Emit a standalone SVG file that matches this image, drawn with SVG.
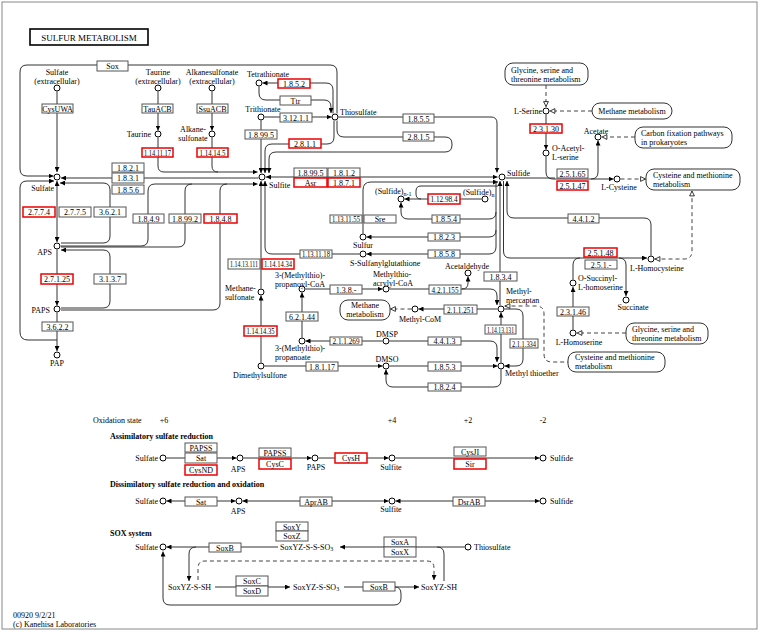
<svg xmlns="http://www.w3.org/2000/svg" width="761" height="632" viewBox="0 0 761 632">
<defs>
<style>
text{font-family:"Liberation Serif","Times New Roman",serif;font-size:8px;fill:#000}
.l{fill:none;stroke:#333;stroke-width:1}
.d{fill:none;stroke:#444;stroke-width:1;stroke-dasharray:4,3}
.e rect{fill:#fff;stroke:#555;stroke-width:1}
.r rect{fill:#fff;stroke:#e00;stroke-width:1.5}
.e text,.r text{text-anchor:middle}
.c circle{fill:#fff;stroke:#000;stroke-width:1}
.mp rect{fill:#fff;stroke:#333;stroke-width:1}
.bold{font-weight:bold}
.end{text-anchor:end}
.mid{text-anchor:middle}
</style>
<marker id="a" viewBox="0 0 10 10" refX="10" refY="5" markerWidth="5" markerHeight="5" markerUnits="userSpaceOnUse" orient="auto-start-reverse"><path d="M0,0L10,5L0,10z" fill="#000"/></marker>
<marker id="h" viewBox="0 0 10 10" refX="10" refY="5" markerWidth="6" markerHeight="6" markerUnits="userSpaceOnUse" orient="auto-start-reverse"><path d="M1,1L9,5L1,9z" fill="#fff" stroke="#000" stroke-width="1.3"/></marker>
</defs>
<rect x="2" y="2" width="755" height="627" fill="#fff" stroke="#888" stroke-width="1"/>
<g id="title"><rect x="30" y="29" width="118" height="16" fill="#fff" stroke="#000" stroke-width="1.6"/><text x="89" y="40.5" class="mid" style="font-size:9px">SULFUR  METABOLISM</text></g>

<g id="connectors">
<path class="l" d="M57,91.5V172" marker-end="url(#a)"/>
<path class="l" d="M158,91.5V130.5" marker-end="url(#a)"/>
<path class="l" d="M158,137.5V166Q158,172 164,172H257.5" marker-end="url(#a)"/>
<path class="l" d="M212,91.5V130.5" marker-end="url(#a)"/>
<path class="l" d="M212,137.5V166Q212,172 218,172"/>
<path class="l" d="M337,113.5V72Q337,65 330,65H27Q20,65 20,72V169Q20,176 27,176H53.5" marker-end="url(#a)"/>
<path class="l" d="M57,340H28Q20,340 20,332V188Q20,181 27,181H54" marker-end="url(#a)"/>
<path class="l" d="M258.5,178H61" marker-end="url(#a)"/>
<path class="l" d="M57,181V242" marker-start="url(#a)" marker-end="url(#a)"/>
<path class="l" d="M61,243H103Q110,243 110,236V190Q110,183 103,183H60" marker-end="url(#a)"/>
<path class="l" d="M57,249.5V305.5" marker-end="url(#a)"/>
<path class="l" d="M61,308H103Q110,308 110,301V257Q110,250 103,250H61" marker-end="url(#a)"/>
<path class="l" d="M61,246H141Q148,246 148,239V191Q148,184 155,184H257.5" marker-end="url(#a)"/>
<path class="l" d="M61,247H178Q185,247 185,240V191Q185,184 192,184"/>
<path class="l" d="M61,310H213Q220,310 220,303V191Q220,184 227,184"/>
<path class="l" d="M57,312.5V351" marker-end="url(#a)"/>
<path class="l" d="M333,113.5V90Q333,83 326,83H262.5" marker-end="url(#a)"/>
<path class="l" d="M259,86.5V93Q259,100 266,100H324Q331,100 331,107V113" marker-end="url(#a)"/>
<path class="l" d="M264.5,117H331.5" marker-end="url(#a)"/>
<path class="l" d="M261,120.5V173" marker-end="url(#a)"/>
<path class="l" d="M334,120.5V137Q334,144 327,144H272Q265,144 265,151V173" marker-end="url(#a)"/>
<path class="l" d="M337,120.5V130Q337,137 344,137H445Q452,137 452,144V145Q452,152 445,152H276Q269,152 269,159V173" marker-end="url(#a)"/>
<path class="l" d="M338.5,117H491Q497,117 497,123V172.5" marker-end="url(#a)"/>
<path class="l" d="M266,177H497.5" marker-start="url(#a)" marker-end="url(#a)"/>
<path class="l" d="M363,233.5V190Q363,182 371,182H498" marker-end="url(#a)"/>
<path class="l" d="M481.5,199H404.5" marker-end="url(#a)"/>
<path class="l" d="M421,199Q416,199 416,194V191Q416,186 421,186H498"/>
<path class="l" d="M496,181V212Q496,219 489,219H408Q401,219 401,212V202.5" marker-end="url(#a)"/>
<path class="l" d="M496,212V230Q496,237 489,237H366.5" marker-end="url(#a)"/>
<path class="l" d="M496,230V247Q496,254 489,254H366.5" marker-end="url(#a)"/>
<path class="l" d="M500,305.5V181" marker-end="url(#a)"/>
<path class="l" d="M651,255.5V225Q651,218 644,218H514Q507,218 507,211V181" marker-end="url(#a)"/>
<path class="l" d="M503.5,181V251Q503.5,258 510,258H647" marker-end="url(#a)"/>
<path class="l" d="M573,279.5V265Q573,258 580,258"/>
<path class="l" d="M619,258Q626,258 626,265V296" marker-end="url(#a)"/>
<path class="l" d="M573,329.5V287" marker-end="url(#a)"/>
<path class="l" d="M546,114.5V149.5" marker-end="url(#a)"/>
<path class="l" d="M546,156.5V172Q546,179 553,179H613.5" marker-end="url(#a)"/>
<path class="l" d="M505.5,178H555"/>
<path class="l" d="M591,179Q598,179 598,172V140.5" marker-end="url(#a)"/>
<path class="l" d="M261,288.5V181" marker-end="url(#a)"/>
<path class="l" d="M359.5,254H272Q265,254 265,247V181" marker-end="url(#a)"/>
<path class="l" d="M261,362.5V295.5" marker-end="url(#a)"/>
<path class="l" d="M264.5,366H382.5" marker-end="url(#a)"/>
<path class="l" d="M389.5,366H497.5" marker-end="url(#a)"/>
<path class="l" d="M501,369.5V380Q501,387 494,387H393Q386,387 386,380V369.5" marker-end="url(#a)"/>
<path class="l" d="M382.5,341H305.5" marker-end="url(#a)"/>
<path class="l" d="M389.5,341H490Q497,341 497,348V362" marker-end="url(#a)"/>
<path class="l" d="M302,337.5V292.5" marker-end="url(#a)"/>
<path class="l" d="M305.5,289H382.5" marker-end="url(#a)"/>
<path class="l" d="M389.5,289H490Q497,289 497,296V305" marker-end="url(#a)"/>
<path class="l" d="M462,289Q468,289 468,283V276.5" marker-end="url(#a)"/>
<path class="l" d="M497.5,309H418.5" marker-end="url(#a)"/>
<path class="l" d="M501,362.5V312.5" marker-end="url(#a)"/>
<path class="l" d="M504.5,309H516Q523,309 523,316V359Q523,366 516,366H504.5" marker-end="url(#a)"/>
<path class="d" d="M546,85V107" marker-end="url(#h)"/>
<path class="d" d="M592,111H549.5" marker-end="url(#h)"/>
<path class="d" d="M635,137H601.5" marker-end="url(#h)"/>
<path class="d" d="M620.5,179H646" marker-end="url(#h)"/>
<path class="d" d="M654.5,259H684Q692,259 692,251V190.5" marker-start="url(#h)" marker-end="url(#h)"/>
<path class="d" d="M504.5,306H536Q544,306 544,314V354Q544,362 552,362H568" marker-start="url(#h)"/>
<path class="d" d="M626,333H576.5" marker-end="url(#h)"/>
<path class="d" d="M411.5,309H390" marker-end="url(#h)"/>
<path class="l" d="M166.5,458H236.5" marker-end="url(#a)"/>
<path class="l" d="M243.5,458H311.5" marker-end="url(#a)"/>
<path class="l" d="M318.5,458H388.5" marker-end="url(#a)"/>
<path class="l" d="M395.5,458H539.5" marker-end="url(#a)"/>
<path class="l" d="M166.5,501H235.5" marker-start="url(#a)" marker-end="url(#a)"/>
<path class="l" d="M242.5,501H388.5" marker-start="url(#a)" marker-end="url(#a)"/>
<path class="l" d="M395.5,501H539.5" marker-start="url(#a)" marker-end="url(#a)"/>
<path class="l" d="M464.5,547H340" marker-end="url(#a)"/>
<path class="l" d="M444,581V554Q444,547 437,547"/>
<path class="l" d="M278,547H166.5" marker-end="url(#a)"/>
<path class="l" d="M196,547Q189,547 189,554V581" marker-end="url(#a)"/>
<path class="d" d="M198,580V568Q198,561 205,561H427Q434,561 434,568V580" marker-end="url(#a)"/>
<path class="l" d="M215,587H290" marker-end="url(#a)"/>
<path class="l" d="M344,587H419" marker-end="url(#a)"/>
<path class="l" d="M395,587Q401,587 401,594V598Q401,605 394,605H170Q163,605 163,598V551.5" marker-end="url(#a)"/>
</g>

<g id="enzymes">
<g id="e_sox" class="e"><rect x="97" y="61" width="31" height="10"/><text x="112.5" y="69">Sox</text></g>
<g id="e_cysuwa" class="e"><rect x="42" y="104" width="31" height="9"/><text x="57.5" y="111.5">CysUWA</text></g>
<g id="e_tauacb" class="e"><rect x="142" y="104" width="31" height="9"/><text x="157.5" y="111.5">TauACB</text></g>
<g id="e_ssuacb" class="e"><rect x="197" y="104" width="31" height="9"/><text x="212.5" y="111.5">SsuACB</text></g>
<g id="e_1_14_11_17" class="r"><rect x="142" y="148" width="31" height="9"/><text x="157.5" y="155.5" textLength="27" lengthAdjust="spacingAndGlyphs">1.14.11.17</text></g>
<g id="e_1_14_14_5" class="r"><rect x="197" y="148" width="31" height="9"/><text x="212.5" y="155.5" textLength="26" lengthAdjust="spacingAndGlyphs">1.14.14.5</text></g>
<g id="e_1_8_5_2" class="r"><rect x="278" y="79" width="32" height="9"/><text x="294" y="86.5">1.8.5.2</text></g>
<g id="e_ttr" class="e"><rect x="280" y="96" width="31" height="9"/><text x="295.5" y="103.5">Ttr</text></g>
<g id="e_3_12_1_1" class="e"><rect x="280" y="113" width="32" height="9"/><text x="296" y="120.5">3.12.1.1</text></g>
<g id="e_1_8_99_5a" class="e"><rect x="245" y="130" width="32" height="9"/><text x="261" y="137.5">1.8.99.5</text></g>
<g id="e_2_8_1_1" class="r"><rect x="289" y="139" width="32" height="9"/><text x="305" y="146.5">2.8.1.1</text></g>
<g id="e_1_8_5_5" class="e"><rect x="403" y="114" width="31" height="9"/><text x="418.5" y="121.5">1.8.5.5</text></g>
<g id="e_2_8_1_5" class="e"><rect x="403" y="132" width="31" height="9"/><text x="418.5" y="139.5">2.8.1.5</text></g>
<g id="e_1_8_2_1" class="e"><rect x="112" y="163" width="32" height="9"/><text x="128" y="170.5">1.8.2.1</text></g>
<g id="e_1_8_3_1" class="e"><rect x="112" y="173" width="32" height="10"/><text x="128" y="181">1.8.3.1</text></g>
<g id="e_1_8_5_6" class="e"><rect x="112" y="185" width="32" height="9"/><text x="128" y="192.5">1.8.5.6</text></g>
<g id="e_1_8_99_5b" class="e"><rect x="294" y="168" width="33" height="9"/><text x="310.5" y="175.5">1.8.99.5</text></g>
<g id="e_1_8_1_2" class="e"><rect x="328" y="168" width="32" height="9"/><text x="344" y="175.5">1.8.1.2</text></g>
<g id="e_asr" class="r"><rect x="294" y="178" width="33" height="9"/><text x="310.5" y="185.5">Asr</text></g>
<g id="e_1_8_7_1" class="r"><rect x="328" y="178" width="32" height="9"/><text x="344" y="185.5">1.8.7.1</text></g>
<g id="e_2_7_7_4" class="r"><rect x="23" y="207" width="32" height="10"/><text x="39" y="215">2.7.7.4</text></g>
<g id="e_2_7_7_5" class="e"><rect x="59" y="207" width="32" height="10"/><text x="75" y="215">2.7.7.5</text></g>
<g id="e_3_6_2_1" class="e"><rect x="94" y="207" width="32" height="10"/><text x="110" y="215">3.6.2.1</text></g>
<g id="e_1_8_4_9" class="e"><rect x="133" y="214" width="31" height="9"/><text x="148.5" y="221.5">1.8.4.9</text></g>
<g id="e_1_8_99_2" class="e"><rect x="169" y="214" width="32" height="9"/><text x="185" y="221.5">1.8.99.2</text></g>
<g id="e_1_8_4_8" class="r"><rect x="204" y="214" width="33" height="9"/><text x="220.5" y="221.5">1.8.4.8</text></g>
<g id="e_2_7_1_25" class="r"><rect x="41" y="274" width="32" height="10"/><text x="57" y="282">2.7.1.25</text></g>
<g id="e_3_1_3_7" class="e"><rect x="94" y="274" width="32" height="10"/><text x="110" y="282">3.1.3.7</text></g>
<g id="e_3_6_2_2" class="e"><rect x="42" y="322" width="31" height="9"/><text x="57.5" y="329.5">3.6.2.2</text></g>
<g id="e_1_14_13_111" class="e"><rect x="228" y="259" width="32" height="10"/><text x="244" y="267" textLength="28" lengthAdjust="spacingAndGlyphs">1.14.13.111</text></g>
<g id="e_1_14_14_34" class="r"><rect x="262" y="259" width="32" height="10"/><text x="278" y="267" textLength="28" lengthAdjust="spacingAndGlyphs">1.14.14.34</text></g>
<g id="e_1_14_14_35" class="r"><rect x="244" y="326" width="33" height="10"/><text x="260.5" y="334" textLength="28" lengthAdjust="spacingAndGlyphs">1.14.14.35</text></g>
<g id="e_1_12_98_4" class="r"><rect x="428" y="194" width="32" height="10"/><text x="444" y="202" textLength="27" lengthAdjust="spacingAndGlyphs">1.12.98.4</text></g>
<g id="e_1_8_5_4" class="e"><rect x="432" y="215" width="28" height="8"/><text x="446" y="222">1.8.5.4</text></g>
<g id="e_1_13_11_55" class="e"><rect x="330" y="215" width="32" height="8"/><text x="346" y="222" textLength="28" lengthAdjust="spacingAndGlyphs">1.13.11.55</text></g>
<g id="e_sre" class="e"><rect x="364" y="215" width="32" height="8"/><text x="380" y="222">Sre</text></g>
<g id="e_1_8_2_3" class="e"><rect x="428" y="233" width="32" height="8"/><text x="444" y="240">1.8.2.3</text></g>
<g id="e_1_8_5_8" class="e"><rect x="428" y="250" width="32" height="8"/><text x="444" y="257">1.8.5.8</text></g>
<g id="e_1_13_11_18" class="e"><rect x="300" y="250" width="32" height="8"/><text x="316" y="257" textLength="28" lengthAdjust="spacingAndGlyphs">1.13.11.18</text></g>
<g id="e_1_3_8_" class="e"><rect x="330" y="285" width="32" height="9"/><text x="346" y="292.5">1.3.8.-</text></g>
<g id="e_4_2_1_155" class="e"><rect x="429" y="285" width="32" height="9"/><text x="445" y="292.5" textLength="27" lengthAdjust="spacingAndGlyphs">4.2.1.155</text></g>
<g id="e_6_2_1_44" class="e"><rect x="286" y="312" width="32" height="9"/><text x="302" y="319.5">6.2.1.44</text></g>
<g id="e_2_1_1_251" class="e"><rect x="444" y="305" width="33" height="9"/><text x="460.5" y="312.5" textLength="27" lengthAdjust="spacingAndGlyphs">2.1.1.251</text></g>
<g id="e_1_8_3_4" class="e"><rect x="484" y="272" width="33" height="9"/><text x="500.5" y="279.5">1.8.3.4</text></g>
<g id="e_1_14_13_131" class="e"><rect x="485" y="325" width="31" height="9"/><text x="500.5" y="332.5" textLength="27" lengthAdjust="spacingAndGlyphs">1.14.13.131</text></g>
<g id="e_2_1_1_334" class="e"><rect x="510" y="339" width="28" height="9"/><text x="524" y="346.5" textLength="24" lengthAdjust="spacingAndGlyphs">2.1.1.334</text></g>
<g id="e_2_1_1_269" class="e"><rect x="330" y="337" width="32" height="8"/><text x="346" y="344" textLength="27" lengthAdjust="spacingAndGlyphs">2.1.1.269</text></g>
<g id="e_4_4_1_3" class="e"><rect x="428" y="337" width="33" height="8"/><text x="444.5" y="344">4.4.1.3</text></g>
<g id="e_1_8_1_17" class="e"><rect x="306" y="362" width="32" height="9"/><text x="322" y="369.5">1.8.1.17</text></g>
<g id="e_1_8_5_3" class="e"><rect x="428" y="362" width="33" height="9"/><text x="444.5" y="369.5">1.8.5.3</text></g>
<g id="e_1_8_2_4" class="e"><rect x="428" y="383" width="33" height="8"/><text x="444.5" y="390">1.8.2.4</text></g>
<g id="e_2_3_1_30" class="r"><rect x="530" y="124" width="32" height="9"/><text x="546" y="131.5">2.3.1.30</text></g>
<g id="e_2_5_1_65" class="e"><rect x="557" y="169" width="31" height="9"/><text x="572.5" y="176.5">2.5.1.65</text></g>
<g id="e_2_5_1_47" class="r"><rect x="557" y="181" width="31" height="9"/><text x="572.5" y="188.5">2.5.1.47</text></g>
<g id="e_4_4_1_2" class="e"><rect x="568" y="214" width="31" height="9"/><text x="583.5" y="221.5">4.4.1.2</text></g>
<g id="e_2_5_1_48" class="r"><rect x="584" y="248" width="33" height="9"/><text x="600.5" y="255.5">2.5.1.48</text></g>
<g id="e_2_5_1_" class="e"><rect x="585" y="260" width="32" height="9"/><text x="601" y="267.5">2.5.1.-</text></g>
<g id="e_2_3_1_46" class="e"><rect x="557" y="307" width="32" height="9"/><text x="573" y="314.5">2.3.1.46</text></g>
<g id="e_papss1" class="e"><rect x="185" y="443" width="32" height="9"/><text x="201" y="450.5">PAPSS</text></g>
<g id="e_sat1" class="e"><rect x="185" y="453" width="32" height="10"/><text x="201" y="461">Sat</text></g>
<g id="e_cysnd" class="r"><rect x="185" y="465" width="32" height="10"/><text x="201" y="473">CysND</text></g>
<g id="e_papss2" class="e"><rect x="259" y="448" width="32" height="9"/><text x="275" y="455.5">PAPSS</text></g>
<g id="e_cysc" class="r"><rect x="259" y="459" width="32" height="10"/><text x="275" y="467">CysC</text></g>
<g id="e_cysh" class="r"><rect x="335" y="453" width="32" height="10"/><text x="351" y="461">CysH</text></g>
<g id="e_cysji" class="e"><rect x="454" y="447" width="32" height="9"/><text x="470" y="454.5">CysJI</text></g>
<g id="e_sir" class="r"><rect x="454" y="459" width="32" height="10"/><text x="470" y="467">Sir</text></g>
<g id="e_sat2" class="e"><rect x="185" y="497" width="32" height="9"/><text x="201" y="504.5">Sat</text></g>
<g id="e_aprab" class="e"><rect x="300" y="497" width="32" height="9"/><text x="316" y="504.5">AprAB</text></g>
<g id="e_dsrab" class="e"><rect x="453" y="497" width="32" height="9"/><text x="469" y="504.5">DsrAB</text></g>
<g id="e_soxb1" class="e"><rect x="209" y="543" width="32" height="9"/><text x="225" y="550.5">SoxB</text></g>
<g id="e_soxy" class="e"><rect x="276" y="522" width="32" height="9"/><text x="292" y="529.5">SoxY</text></g>
<g id="e_soxz" class="e"><rect x="276" y="531" width="32" height="10"/><text x="292" y="539">SoxZ</text></g>
<g id="e_soxa" class="e"><rect x="384" y="537" width="32" height="10"/><text x="400" y="545">SoxA</text></g>
<g id="e_soxx" class="e"><rect x="384" y="547" width="32" height="10"/><text x="400" y="555">SoxX</text></g>
<g id="e_soxc" class="e"><rect x="236" y="576" width="32" height="10"/><text x="252" y="584">SoxC</text></g>
<g id="e_soxd" class="e"><rect x="236" y="586" width="32" height="10"/><text x="252" y="594">SoxD</text></g>
<g id="e_soxb2" class="e"><rect x="363" y="582" width="32" height="9"/><text x="379" y="589.5">SoxB</text></g>
</g>

<g id="maps">
<g id="m_gly1" class="mp"><rect x="505" y="63" width="83" height="22" rx="8"/><text x="511" y="73">Glycine, serine and</text><text x="511" y="82">threonine metabolism</text></g>
<g id="m_methane1" class="mp"><rect x="592" y="103" width="80" height="16" rx="8"/><text x="632" y="113.5" class="mid">Methane metabolism</text></g>
<g id="m_carbon" class="mp"><rect x="635" y="127" width="97" height="21" rx="8"/><text x="641" y="136">Carbon fixation pathways</text><text x="641" y="145">in prokaryotes</text></g>
<g id="m_cys1" class="mp"><rect x="646" y="169" width="94" height="21" rx="8"/><text x="653" y="178">Cysteine and methionine</text><text x="653" y="187">metabolism</text></g>
<g id="m_methane2" class="mp"><rect x="340" y="300" width="50" height="20" rx="8"/><text x="365" y="308" class="mid">Methane</text><text x="365" y="317" class="mid">metabolism</text></g>
<g id="m_gly2" class="mp"><rect x="626" y="323" width="82" height="21" rx="8"/><text x="632" y="332">Glycine, serine and</text><text x="632" y="341">threonine metabolism</text></g>
<g id="m_cys2" class="mp"><rect x="568" y="352" width="97" height="20" rx="8"/><text x="575" y="360">Cysteine and methionine</text><text x="575" y="369">metabolism</text></g>
</g>

<g id="compounds">
<g id="c_sulfate_ext" class="c"><circle cx="57" cy="88" r="3"/><text x="57" y="75" class="mid">Sulfate</text><text x="57" y="84" class="mid">(extracellular)</text></g>
<g id="c_taurine_ext" class="c"><circle cx="158" cy="88" r="3"/><text x="158" y="75" class="mid">Taurine</text><text x="158" y="84" class="mid">(extracellular)</text></g>
<g id="c_alk_ext" class="c"><circle cx="212" cy="88" r="3"/><text x="212" y="75" class="mid">Alkanesulfonate</text><text x="212" y="84" class="mid">(extracellular)</text></g>
<g id="c_taurine" class="c"><circle cx="158" cy="134" r="3"/><text x="151" y="137" class="end">Taurine</text></g>
<g id="c_alk" class="c"><circle cx="212" cy="134" r="3"/><text x="193" y="131.5" class="mid">Alkane-</text><text x="193" y="140.5" class="mid">sulfonate</text></g>
<g id="c_sulfate" class="c"><circle cx="57" cy="177" r="3"/><text x="54" y="191" class="end">Sulfate</text></g>
<g id="c_aps" class="c"><circle cx="57" cy="246" r="3"/><text x="52" y="255" class="end">APS</text></g>
<g id="c_paps" class="c"><circle cx="57" cy="309" r="3"/><text x="50" y="313" class="end">PAPS</text></g>
<g id="c_pap" class="c"><circle cx="57" cy="355" r="3"/><text x="57" y="366" class="mid">PAP</text></g>
<g id="c_tetrathionate" class="c"><circle cx="259" cy="83" r="3"/><text x="268" y="77" class="mid">Tetrathionate</text></g>
<g id="c_trithionate" class="c"><circle cx="261" cy="117" r="3"/><text x="263" y="112" class="mid">Trithionate</text></g>
<g id="c_thiosulfate" class="c"><circle cx="335" cy="117" r="3"/><text x="340" y="115">Thiosulfate</text></g>
<g id="c_sulfite" class="c"><circle cx="262" cy="177" r="3"/><text x="269" y="188">Sulfite</text></g>
<g id="c_sulfide" class="c"><circle cx="502" cy="177" r="3"/><text x="507" y="176">Sulfide</text></g>
<g id="c_sulfiden1" class="c"><circle cx="401" cy="199" r="3"/><text x="375" y="194">(Sulfide)<tspan style="font-size:6px" dy="1.5">n-1</tspan></text></g>
<g id="c_sulfiden" class="c"><circle cx="485" cy="199" r="3"/><text x="463" y="195">(Sulfide)<tspan style="font-size:6px" dy="1.5">n</tspan></text></g>
<g id="c_sulfur" class="c"><circle cx="363" cy="237" r="3"/><text x="363" y="248" class="mid">Sulfur</text></g>
<g id="c_ssg" class="c"><circle cx="363" cy="254" r="3"/><text x="350" y="266">S-Sulfanylglutathione</text></g>
<g id="c_methanesulfonate" class="c"><circle cx="261" cy="292" r="3"/><text x="225" y="291">Methane-</text><text x="225" y="300">sulfonate</text></g>
<g id="c_dimethylsulfone" class="c"><circle cx="261" cy="366" r="3"/><text x="260" y="378" class="mid">Dimethylsulfone</text></g>
<g id="c_mtp_coa" class="c"><circle cx="302" cy="289" r="3"/><text x="300" y="277.5" class="mid">3-(Methylthio)-</text><text x="300" y="286.5" class="mid">propanoyl-CoA</text></g>
<g id="c_mta_coa" class="c"><circle cx="386" cy="289" r="3"/><text x="392" y="276.5" class="mid">Methylthio-</text><text x="393" y="285.5" class="mid">acrylyl-CoA</text></g>
<g id="c_acetaldehyde" class="c"><circle cx="468" cy="273" r="3"/><text x="467" y="268.5" class="mid">Acetaldehyde</text></g>
<g id="c_methylmercaptan" class="c"><circle cx="501" cy="309" r="3"/><text x="506" y="294">Methyl-</text><text x="506" y="303">mercaptan</text></g>
<g id="c_methylcom" class="c"><circle cx="415" cy="309" r="3"/><text x="420" y="322" class="mid">Methyl-CoM</text></g>
<g id="c_mtpropanoate" class="c"><circle cx="302" cy="341" r="3"/><text x="275" y="350.5">3-(Methylthio)-</text><text x="275" y="359.5">propanoate</text></g>
<g id="c_dmsp" class="c"><circle cx="386" cy="341" r="3"/><text x="387" y="336.5" class="mid">DMSP</text></g>
<g id="c_dmso" class="c"><circle cx="386" cy="366" r="3"/><text x="387" y="361.5" class="mid">DMSO</text></g>
<g id="c_methylthioether" class="c"><circle cx="501" cy="366" r="3"/><text x="505" y="376">Methyl thioether</text></g>
<g id="c_lserine" class="c"><circle cx="546" cy="111" r="3"/><text x="542" y="114" class="end">L-Serine</text></g>
<g id="c_oacetylserine" class="c"><circle cx="546" cy="153" r="3"/><text x="552" y="150.5">O-Acetyl-</text><text x="552" y="159.5">L-serine</text></g>
<g id="c_acetate" class="c"><circle cx="598" cy="137" r="3"/><text x="596" y="133.5" class="mid">Acetate</text></g>
<g id="c_lcysteine" class="c"><circle cx="617" cy="179" r="3"/><text x="619" y="190" class="mid">L-Cysteine</text></g>
<g id="c_lhomocysteine" class="c"><circle cx="651" cy="259" r="3"/><text x="630" y="271">L-Homocysteine</text></g>
<g id="c_osuccinyl" class="c"><circle cx="573" cy="283" r="3"/><text x="578" y="281">O-Succinyl-</text><text x="578" y="290">L-homoserine</text></g>
<g id="c_succinate" class="c"><circle cx="626" cy="300" r="3"/><text x="633" y="310" class="mid">Succinate</text></g>
<g id="c_lhomoserine" class="c"><circle cx="573" cy="333" r="3"/><text x="579" y="345" class="mid">L-Homoserine</text></g>
<g id="b_sulfate1" class="c"><circle cx="163" cy="458" r="3"/><text x="158" y="461" class="end">Sulfate</text></g>
<g id="b_aps1" class="c"><circle cx="240" cy="458" r="3"/><text x="238" y="472" class="mid">APS</text></g>
<g id="b_paps1" class="c"><circle cx="315" cy="458" r="3"/><text x="316" y="469.5" class="mid">PAPS</text></g>
<g id="b_sulfite1" class="c"><circle cx="392" cy="458" r="3"/><text x="391" y="469.5" class="mid">Sulfite</text></g>
<g id="b_sulfide1" class="c"><circle cx="543" cy="458" r="3"/><text x="550" y="461">Sulfide</text></g>
<g id="b_sulfate2" class="c"><circle cx="163" cy="501" r="3"/><text x="158" y="504" class="end">Sulfate</text></g>
<g id="b_aps2" class="c"><circle cx="239" cy="501" r="3"/><text x="238" y="514" class="mid">APS</text></g>
<g id="b_sulfite2" class="c"><circle cx="392" cy="501" r="3"/><text x="391" y="512" class="mid">Sulfite</text></g>
<g id="b_sulfide2" class="c"><circle cx="543" cy="501" r="3"/><text x="550" y="504">Sulfide</text></g>
<g id="b_sulfate3" class="c"><circle cx="163" cy="547" r="3"/><text x="158" y="550" class="end">Sulfate</text></g>
<g id="b_thiosulfate" class="c"><circle cx="468" cy="547" r="3"/><text x="474" y="550">Thiosulfate</text></g>
<g id="b_soxyzsso3"><text x="280" y="550">SoxYZ-S-S-SO<tspan style="font-size:6px" dy="1">3</tspan></text></g>
<g id="b_soxyzssh"><text x="168" y="590">SoxYZ-S-SH</text></g>
<g id="b_soxyzso3"><text x="293" y="590">SoxYZ-S-SO<tspan style="font-size:6px" dy="1">3</tspan></text></g>
<g id="b_soxyzsh"><text x="421" y="590">SoxYZ-SH</text></g>
</g>

<g id="labels">
<text x="93" y="423">Oxidation state</text>
<text x="164" y="423" class="mid">+6</text>
<text x="392" y="423" class="mid">+4</text>
<text x="468" y="423" class="mid">+2</text>
<text x="543" y="423" class="mid">-2</text>
<text x="110" y="438.5" class="bold">Assimilatory sulfate reduction</text>
<text x="110" y="487" class="bold">Dissimilatory sulfate reduction and oxidation</text>
<text x="110" y="535.5" class="bold">SOX system</text>
<text x="13" y="618">00920 9/2/21</text>
<text x="13" y="626.5">(c) Kanehisa Laboratories</text>
</g>
</svg>
